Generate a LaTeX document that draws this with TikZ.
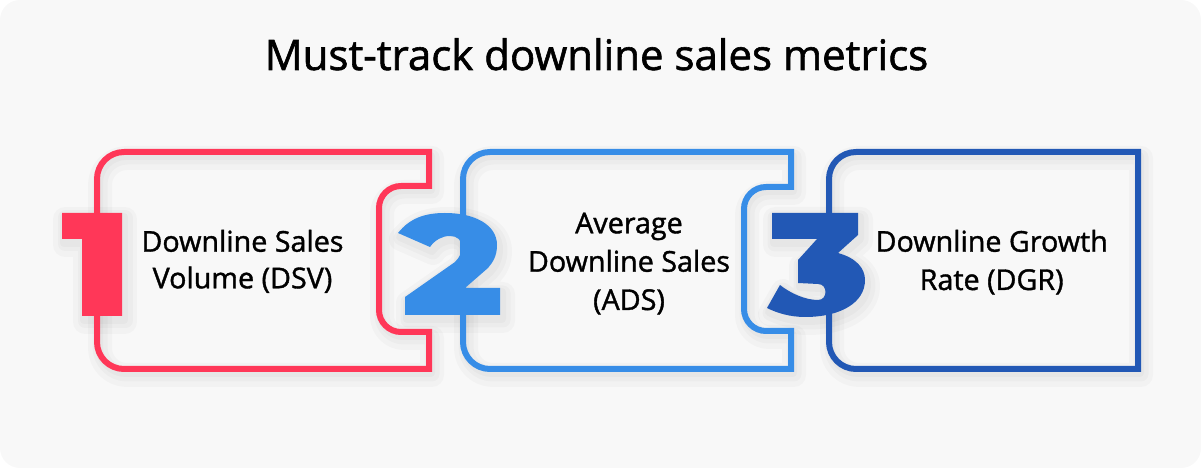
\documentclass[tikz,border=0pt]{standalone}
\usepackage{fontspec}
\setmainfont{Open Sans}
\newfontfamily\titlefont{Open Sans}[FakeBold=1.4]
\newfontfamily\bodyfont{Open Sans}[FakeBold=1.3]
\definecolor{bgc}{HTML}{F8F8F8}
\definecolor{cred}{HTML}{FF3758}
\definecolor{cblue}{HTML}{378DE7}
\definecolor{cdark}{HTML}{2258B5}
\def\pathA{(429,282) -- (429,316) -- (124,316) arc[start angle=90,end angle=180,radius=27] -- (97,126) arc[start angle=180,end angle=270,radius=27] -- (429,99) -- (429,136) -- (401,136) arc[start angle=270,end angle=180,radius=22] -- (379,260) arc[start angle=180,end angle=90,radius=22] -- cycle}
\def\pathB{(791,281) -- (791,316) -- (490,316) arc[start angle=90,end angle=180,radius=27] -- (463,126) arc[start angle=180,end angle=270,radius=27] -- (791,99) -- (791,137) -- (766,137) arc[start angle=270,end angle=180,radius=22] -- (744,259) arc[start angle=180,end angle=90,radius=22] -- cycle}
\def\pathC{(1138,316) -- (856,316) arc[start angle=90,end angle=180,radius=27] -- (829,126) arc[start angle=180,end angle=270,radius=27] -- (1138,99) -- cycle}
\def\digitA{(62,255) -- (122,255) -- (122,152) -- (82,152) -- (82,229) -- (62,229) -- cycle}
\def\digitB{(398,235) .. controls (410,250) and (425,255) .. (445,255) .. controls (475,255) and (497,243) .. (497,223) .. controls (497,212) and (493,206) .. (488,200) -- (465,180) -- (500,180) -- (500,153) -- (405,153) -- (405,171) -- (455,206) .. controls (460,211) and (462,216) .. (462,221) .. controls (462,228) and (457,232) .. (450,232) .. controls (442,232) and (435,228) .. (430,221) -- cycle}
\def\digitC{(772,255) -- (858,255) -- (858,233) -- (838,215) .. controls (856,210) and (865,200) .. (865,188) .. controls (865,165) and (840,151) .. (805,151) .. controls (790,151) and (777,155) .. (767,160) -- (780,183) .. controls (790,175) and (805,168) .. (818,168) .. controls (828,168) and (828,184) .. (818,184) -- (798,185) -- (798,208) -- (817,229) -- (772,229) -- cycle}
\tikzset{
  shadowA/.style={draw=black, draw opacity=0.025, line width=24pt, line join=round, xshift=3pt, yshift=-6pt},
  shadowB/.style={draw=black, draw opacity=0.025, line width=15pt, line join=round, xshift=3pt, yshift=-5pt},
  shadowC/.style={draw=black, draw opacity=0.025, line width=8pt, line join=round, xshift=2pt, yshift=-4pt},
  outline/.style={line width=6pt, line join=miter},
  bodytext/.style={font=\bodyfont\fontsize{28.7}{34}\selectfont, anchor=base, inner sep=0pt},
}
\begin{document}
\begin{tikzpicture}[x=1pt,y=1pt]
\useasboundingbox (0,0) rectangle (1201,468);
\fill[bgc, rounded corners=20pt] (0,0) rectangle (1201,468);
% shadows
\foreach \s in {shadowA,shadowB,shadowC}{
  \path[\s] \pathA;
  \path[\s] \pathB;
  \path[\s] \pathC;
  \path[\s] \digitA;
  \path[\s] \digitB;
  \path[\s] \digitC;
}
% outlines
\draw[outline, cred] \pathA;
\draw[outline, cblue] \pathB;
\draw[outline, cdark] \pathC;
% digits
\fill[cred] \digitA;
\fill[cblue] \digitB;
\fill[cdark] \digitC;
% title
\node[font=\titlefont\fontsize{42}{50}\selectfont, anchor=base, inner sep=0pt] (title) at (596.5,398) {Must-track downline sales metrics};
% texts
\node[bodytext] (t1a) at (242.5,216.3) {Downline Sales};
\node[bodytext] (t1b) at (242.5,179.7) {Volume (DSV)};
\node[bodytext] (t2a) at (629,234.7) {Average};
\node[bodytext] (t2b) at (629,196.3) {Downline Sales};
\node[bodytext] (t2c) at (629,158) {(ADS)};
\node[bodytext] (t3a) at (991.7,216.3) {Downline Growth};
\node[bodytext] (t3b) at (991.7,178) {Rate (DGR)};
\end{tikzpicture}
\end{document}
